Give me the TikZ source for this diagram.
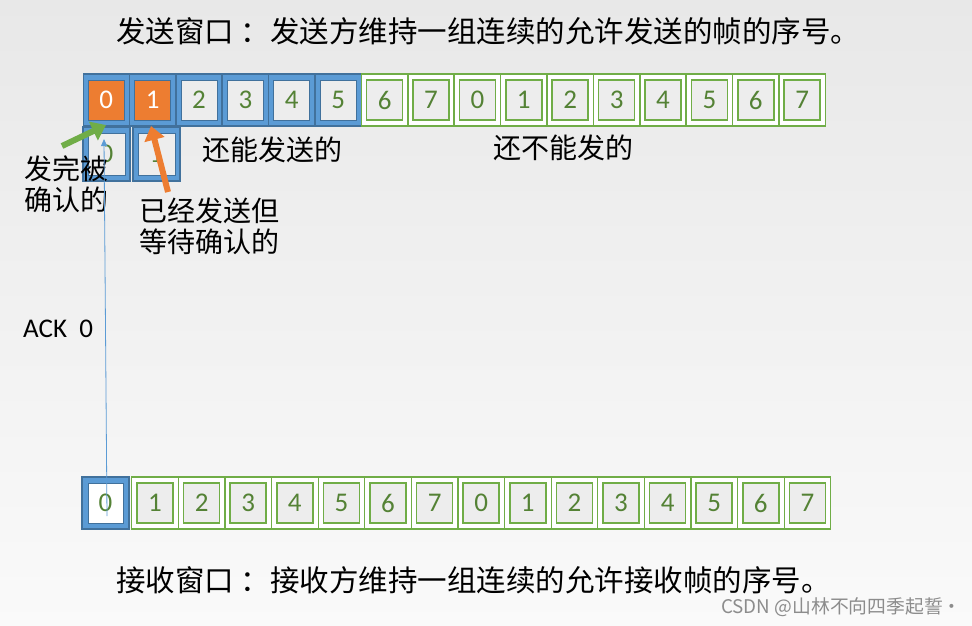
\documentclass[tikz,border=0pt]{standalone}
\usepackage{fontspec}
\setsansfont{Carlito}
\newfontfamily\cjk{Noto Sans CJK SC}
\usetikzlibrary{arrows.meta}

\definecolor{winblue}{HTML}{5B9BD5}
\definecolor{winedge}{HTML}{41719C}
\definecolor{winorange}{HTML}{ED7D31}
\definecolor{wingreen}{HTML}{70AD47}
\definecolor{numgreen}{HTML}{548235}
\definecolor{cellgrey}{HTML}{EDEDED}

\tikzset{
  outerblue/.style={draw=winedge, fill=winblue, line width=1.2pt, minimum width=46pt, minimum height=52pt, inner sep=0pt},
  outergreen/.style={draw=wingreen, fill=white, line width=1.2pt, minimum width=46pt, minimum height=52pt, inner sep=0pt},
  innerblue/.style={draw=winedge, fill=cellgrey, line width=0.8pt, minimum width=36pt, minimum height=40pt, inner sep=0pt, text=numgreen, font=\sffamily\fontsize{27}{27}\selectfont},
  innersent/.style={innerblue, fill=winorange, text=white},
  innergreen/.style={innerblue, draw=wingreen, line width=1.5pt},
  cjktext/.style={font=\cjk\fontsize{28}{31}\selectfont, inner sep=0pt, anchor=west, align=left},
}

\begin{document}
\begin{tikzpicture}[x=1pt, y=-1pt]
    \useasboundingbox (0,0) rectangle (972,625);
    \shade[top color=black!9, bottom color=black!2] (0,0) rectangle (972,625);

    % sending window
    \foreach \i in {0,1} {
        \node[outerblue] (snd\i) at ({83+46.4*(\i+0.5)},100) {};
        \node[innersent] (sndin\i) at (snd\i) {\i};
    }
    \foreach \i in {2,...,5} {
        \node[outerblue] (snd\i) at ({83+46.4*(\i+0.5)},100) {};
        \node[innerblue] (sndin\i) at (snd\i) {\i};
    }
    \foreach \i in {6,...,15} {
        \pgfmathtruncatemacro\seq{mod(\i,8)}
        \node[outergreen] (snd\i) at ({83+46.4*(\i+0.5)},100) {};
        \node[innergreen] (sndin\i) at (snd\i) {\seq};
    }

    % frames already acknowledged
    \node[outerblue, minimum width=47pt, minimum height=54pt] (done0) at (106.5,154) {};
    \node[innerblue, minimum width=37pt, minimum height=42pt] (donein0) at (done0) {};
    \node[outerblue, minimum width=47pt, minimum height=54pt] (done1) at (156.5,154) {};
    \node[innerblue, minimum width=37pt, minimum height=42pt] (donein1) at (done1) {};
    \begin{scope}
        \clip (105,133) rectangle (125,175);
        \node[text=numgreen, font=\sffamily\fontsize{27}{27}\selectfont, inner sep=0pt] (doneno0) at (done0) {0};
    \end{scope}
    \begin{scope}
        \clip (133,158) rectangle (180,181);
        \node[text=numgreen, font=\sffamily\fontsize{27}{27}\selectfont, inner sep=0pt] (doneno1) at (done1) {1};
    \end{scope}

    % receiving window
    \node[outerblue, minimum width=47pt] (rcv0) at (105.5,503) {};
    \node[innerblue, fill=white, minimum width=35pt] (rcvin0) at (rcv0) {0};
    \foreach \i in {1,...,15} {
        \pgfmathtruncatemacro\seq{mod(\i,8)}
        \node[outergreen, minimum width=46.6pt] (rcv\i) at ({131.7+46.6*(\i-0.5)},503) {};
        \node[innergreen] (rcvin\i) at (rcv\i) {\seq};
    }

    % texts
    \node[cjktext, font=\cjk\fontsize{29.5}{30}\selectfont] (sndtitle) at (116,31) {发送窗口 ：发送方维持一组连续的允许发送的帧的序号。};
    \node[cjktext] (cansend) at (202,150) {还能发送的};
    \node[cjktext] (cannot) at (493,148) {还不能发的};
    \node[cjktext] (acked) at (24,184) {发完被\\确认的};
    \node[cjktext] (waiting) at (139,226) {已经发送但\\等待确认的};
    \node[anchor=west, inner sep=0pt, font=\sffamily\fontsize{27}{27}\selectfont] (ack) at (23,329) {ACK\ \ 0};
    \node[cjktext, font=\cjk\fontsize{29.5}{30}\selectfont] (rcvtitle) at (116,580) {接收窗口 ：接收方维持一组连续的允许接收帧的序号。};
    \node[anchor=west, inner sep=0pt, text=black!45, font=\cjk\fontsize{18.8}{19}\selectfont] (mark) at (721,607) {CSDN @山林不向四季起誓·};

    % arrows
    \coordinate (ackfoot) at (107,516);
    \coordinate (acktip) at (104,139);
    \coordinate (donetail) at (62,146);
    \coordinate (donetip) at (106,125);
    \coordinate (senttail) at (168,192);
    \coordinate (senttip) at (151,126);
    \draw[winblue, line width=0.8pt, -{Triangle[length=7pt,width=6pt]}] (ackfoot) -- (acktip);
    \draw[wingreen, line width=6pt, -{Triangle[length=14pt,width=20pt]}] (donetail) -- (donetip);
    \draw[winorange, line width=6pt, -{Triangle[length=14pt,width=20pt]}] (senttail) -- (senttip);
\end{tikzpicture}
\end{document}
